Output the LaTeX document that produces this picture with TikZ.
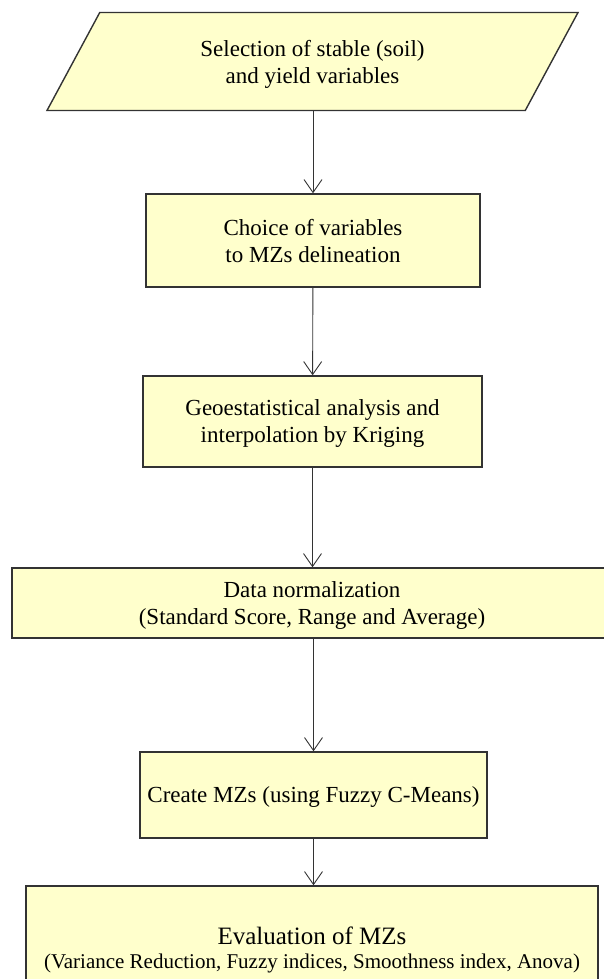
\documentclass[tikz,border=0pt]{standalone}
\usepackage{fontspec}
\setmainfont{Liberation Serif}
\usepackage{xcolor}
\usetikzlibrary{shapes.geometric, arrows.meta}
\definecolor{boxfill}{HTML}{FFFFCC}
\definecolor{boxline}{HTML}{333333}

\begin{document}
\begin{tikzpicture}[x=1pt, y=-1pt, inner sep=3pt]
		\tikzstyle{every node}=[align=center, text depth=0pt, font=\fontsize{23}{27}\selectfont]
		\tikzstyle{stepbox}=[draw=boxline, line width=1.4pt, fill=boxfill, rectangle]
		\tikzstyle{flow}=[line width=0.9pt, draw=boxline, -{Straight Barb[length=13pt, width=18pt, line width=0.9pt]}]
		\clip (0, 0) rectangle (604, 979);
			\node[stepbox, trapezium, trapezium left angle=43, trapezium right angle=137, trapezium stretches body, minimum width=531pt, minimum height=98pt] (select) at (312.5, 61.5) {Selection of stable (soil)\\ and yield variables};
			\node[stepbox, minimum width=334pt, minimum height=93pt] (choice) at (313, 240.5) {Choice of variables\\ to MZs delineation};
			\node[stepbox, minimum width=339pt, minimum height=91pt] (kriging) at (312.5, 421.5) {Geoestatistical analysis and\\ interpolation by Kriging};
			\node[stepbox, minimum width=600pt, minimum height=70pt] (normal) at (312, 603) {Data normalization\\ (Standard Score, Range and Average)};
			\node[stepbox, minimum width=347pt, minimum height=86pt] (fcm) at (313.5, 795) {Create MZs (using Fuzzy C-Means)};
			\node[stepbox, minimum width=572pt, minimum height=124pt] (evalmz) at (312, 948) {{\fontsize{25}{28}\selectfont Evaluation of MZs}\\[-3pt] {\fontsize{21}{24}\selectfont (Variance Reduction, Fuzzy indices, Smoothness index, Anova)}};
	
			\draw[flow] (select.south -| choice.north) to (choice.north);
			\draw[flow] (choice) to (kriging);
			\draw[flow] (kriging) to (normal.north -| kriging.south);
			\draw[flow] (normal.south -| fcm.north) to (fcm);
			\draw[flow] (fcm) to (evalmz.north -| fcm.south);
\end{tikzpicture}
\end{document}
